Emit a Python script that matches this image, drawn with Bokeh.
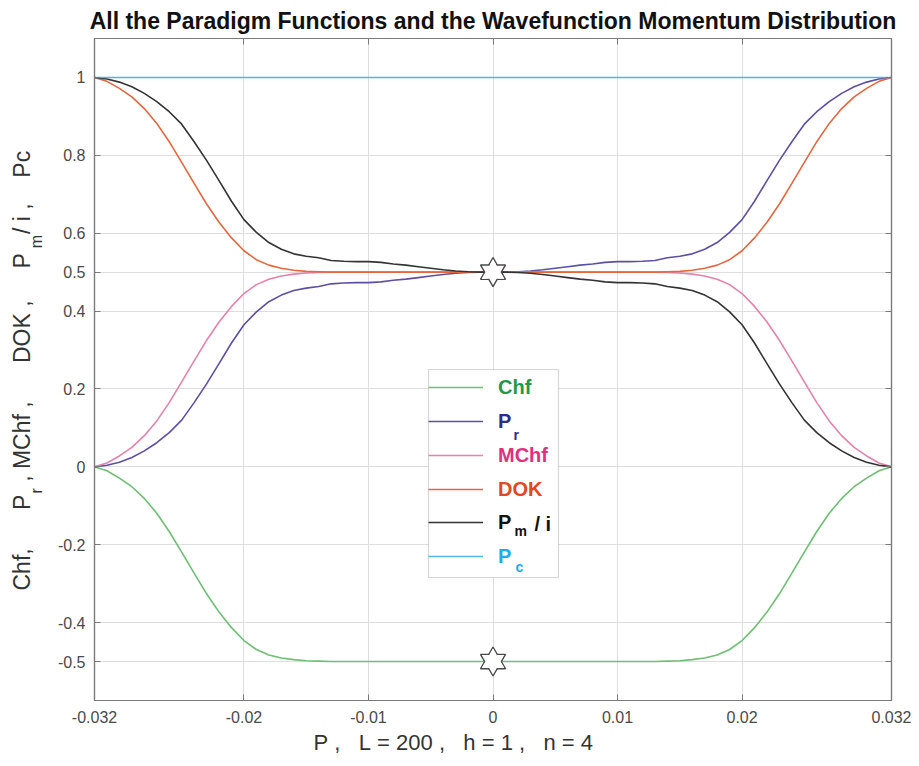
import numpy as np
from bokeh.plotting import figure
from bokeh.models import FixedTicker, LinearAxis, Range1d, Label, BoxAnnotation, Legend, LegendItem
from bokeh.embed import file_html
from bokeh.resources import INLINE

# ---------------- data ----------------
P = [-0.032, -0.031, -0.030, -0.029, -0.028, -0.027, -0.026, -0.025, -0.024, -0.023, -0.022,
     -0.021, -0.020, -0.019, -0.018, -0.017, -0.016, -0.015, -0.014, -0.013, -0.012, -0.011,
     -0.010, -0.009, -0.008, -0.007, -0.006, -0.005, -0.004, -0.003, -0.002, -0.001, 0.000,
     0.001, 0.002, 0.003, 0.004, 0.005, 0.006, 0.007, 0.008, 0.009, 0.010, 0.011,
     0.012, 0.013, 0.014, 0.015, 0.016, 0.017, 0.018, 0.019, 0.020, 0.021, 0.022,
     0.023, 0.024, 0.025, 0.026, 0.027, 0.028, 0.029, 0.030, 0.031, 0.032]

Chf = [0.000, -0.010, -0.029, -0.051, -0.081, -0.119, -0.166, -0.219, -0.273, -0.326, -0.373,
       -0.413, -0.446, -0.469, -0.483, -0.491, -0.495, -0.498, -0.499, -0.500, -0.500, -0.500,
       -0.500, -0.500, -0.500, -0.500, -0.500, -0.500, -0.500, -0.500, -0.500, -0.500, -0.500,
       -0.500, -0.500, -0.500, -0.500, -0.500, -0.500, -0.500, -0.500, -0.500, -0.500, -0.500,
       -0.500, -0.500, -0.499, -0.498, -0.495, -0.491, -0.483, -0.469, -0.446, -0.413, -0.373,
       -0.326, -0.273, -0.219, -0.166, -0.119, -0.081, -0.051, -0.029, -0.010, 0.000]

Pr = [0.000, 0.004, 0.012, 0.024, 0.041, 0.062, 0.088, 0.120, 0.165, 0.213, 0.265,
      0.318, 0.365, 0.398, 0.424, 0.441, 0.453, 0.459, 0.463, 0.470, 0.472, 0.473,
      0.473, 0.475, 0.479, 0.482, 0.486, 0.490, 0.494, 0.497, 0.499, 0.500, 0.500,
      0.500, 0.501, 0.503, 0.506, 0.510, 0.514, 0.518, 0.521, 0.525, 0.527, 0.527,
      0.528, 0.530, 0.537, 0.541, 0.547, 0.559, 0.576, 0.602, 0.635, 0.682, 0.735,
      0.787, 0.835, 0.880, 0.912, 0.938, 0.959, 0.976, 0.988, 0.996, 1.000]

MChf = [0.000, 0.010, 0.028, 0.050, 0.080, 0.118, 0.165, 0.218, 0.272, 0.325, 0.372,
        0.412, 0.445, 0.468, 0.482, 0.490, 0.495, 0.498, 0.499, 0.500, 0.500, 0.500,
        0.500, 0.500, 0.500, 0.500, 0.500, 0.500, 0.500, 0.500, 0.500, 0.500, 0.500,
        0.500, 0.500, 0.500, 0.500, 0.500, 0.500, 0.500, 0.500, 0.500, 0.500, 0.500,
        0.500, 0.500, 0.499, 0.498, 0.495, 0.490, 0.482, 0.468, 0.445, 0.412, 0.372,
        0.325, 0.272, 0.218, 0.165, 0.118, 0.080, 0.050, 0.028, 0.010, 0.000]

DOK = [1.000, 0.990, 0.972, 0.950, 0.920, 0.882, 0.835, 0.782, 0.728, 0.675, 0.628,
       0.588, 0.555, 0.532, 0.518, 0.510, 0.505, 0.502, 0.501, 0.500, 0.500, 0.500,
       0.500, 0.500, 0.500, 0.500, 0.500, 0.500, 0.500, 0.500, 0.500, 0.500, 0.500,
       0.500, 0.500, 0.500, 0.500, 0.500, 0.500, 0.500, 0.500, 0.500, 0.500, 0.500,
       0.500, 0.500, 0.501, 0.502, 0.505, 0.510, 0.518, 0.532, 0.555, 0.588, 0.628,
       0.675, 0.728, 0.782, 0.835, 0.882, 0.920, 0.950, 0.972, 0.990, 1.000]

Pm_i = [1.000, 0.996, 0.988, 0.976, 0.959, 0.938, 0.912, 0.880, 0.835, 0.787, 0.735,
        0.682, 0.635, 0.602, 0.576, 0.559, 0.547, 0.541, 0.537, 0.530, 0.528, 0.527,
        0.527, 0.525, 0.521, 0.518, 0.514, 0.510, 0.506, 0.503, 0.501, 0.500, 0.500,
        0.500, 0.499, 0.497, 0.494, 0.490, 0.486, 0.482, 0.479, 0.475, 0.473, 0.473,
        0.472, 0.470, 0.463, 0.459, 0.453, 0.441, 0.424, 0.398, 0.365, 0.318, 0.265,
        0.213, 0.165, 0.120, 0.088, 0.062, 0.041, 0.024, 0.012, 0.004, 0.000]

Pc = [1.0, 1.0, 1.0, 1.0, 1.0, 1.0, 1.0, 1.0, 1.0, 1.0, 1.0,
      1.0, 1.0, 1.0, 1.0, 1.0, 1.0, 1.0, 1.0, 1.0, 1.0, 1.0,
      1.0, 1.0, 1.0, 1.0, 1.0, 1.0, 1.0, 1.0, 1.0, 1.0, 1.0,
      1.0, 1.0, 1.0, 1.0, 1.0, 1.0, 1.0, 1.0, 1.0, 1.0, 1.0,
      1.0, 1.0, 1.0, 1.0, 1.0, 1.0, 1.0, 1.0, 1.0, 1.0, 1.0,
      1.0, 1.0, 1.0, 1.0, 1.0, 1.0, 1.0, 1.0, 1.0, 1.0]

star_x = [0.0, 0.0]
star_y = [0.5, -0.5]

x_ticks = [-0.032, -0.02, -0.01, 0.0, 0.01, 0.02, 0.032]
x_tick_labels = ["-0.032", "-0.02", "-0.01", "0", "0.01", "0.02", "0.032"]
y_ticks = [-0.5, -0.4, -0.2, 0.0, 0.2, 0.4, 0.5, 0.6, 0.8, 1.0]
y_tick_labels = ["-0.5", "-0.4", "-0.2", "0", "0.2", "0.4", "0.5", "0.6", "0.8", "1"]

TITLE = "All the Paradigm Functions and the Wavefunction Momentum Distribution"
NB = "\u00a0"
XLABEL = ("P" + NB + "," + NB * 3 + "L" + NB + "=" + NB + "200" + NB + "," + NB * 3 +
          "h" + NB + "=" + NB + "1" + NB + "," + NB * 3 + "n" + NB + "=" + NB + "4" + NB * 13)
# y label: "Chf,  P_r ,  MChf ,  DOK ,  P_m / i ,  Pc" (subscripts drawn on a second line of text)
YLABEL_MAIN = ("Chf," + NB * 6 + "P" + NB * 2 + "," + NB + "MChf" + NB + "," + NB * 6 +
               "DOK" + NB + "," + NB * 5 + "P" + NB * 3 + "/" + NB + "i" + NB + "," + NB * 4 + "Pc")
YLABEL_SUBS = "r" + NB * 54 + "m"

FONT = "Liberation Sans"

# ---------------- figure ----------------
W, H = 919, 766
L, R, T, B = 94, 28, 38, 66
X0, X1, Y0, Y1 = -0.032, 0.032, -0.6, 1.1
p = figure(width=W, height=H, x_range=Range1d(X0, X1), y_range=Range1d(Y0, Y1),
           output_backend="svg", toolbar_location=None,
           min_border_left=L, min_border_right=R, min_border_top=T, min_border_bottom=B)
p.background_fill_color = "white"
p.border_fill_color = "white"
p.outline_line_color = "#7a7a7a"
p.outline_line_width = 1.2

p.title.text = TITLE
p.title.align = "center"
p.title.text_font = FONT
p.title.text_font_size = "23px"
p.title.text_font_style = "bold"
p.title.text_color = "#111111"
p.title.offset = 5

def style_axis(ax, ticks, labels, show):
    ax.ticker = FixedTicker(ticks=ticks)
    ax.major_label_overrides = {t: (lab if show else "") for t, lab in zip(ticks, labels)}
    ax.major_tick_in = 6
    ax.major_tick_out = 0
    ax.minor_tick_line_color = None
    ax.axis_line_color = "#7a7a7a"
    ax.axis_line_width = 1.2
    ax.major_tick_line_color = "#7a7a7a"
    ax.major_label_text_font = FONT
    ax.major_label_text_font_size = "16px"
    ax.major_label_text_color = "#4a4a4a"

style_axis(p.xaxis[0], x_ticks, x_tick_labels, True)
style_axis(p.yaxis[0], y_ticks, y_tick_labels, True)
p.xaxis[0].major_label_standoff = 10
p.yaxis[0].major_label_standoff = 9
p.xaxis[0].axis_label = XLABEL
p.xaxis[0].axis_label_text_font = FONT
p.xaxis[0].axis_label_text_font_size = "22px"
p.xaxis[0].axis_label_text_font_style = "normal"
p.xaxis[0].axis_label_text_color = "#333333"
p.xaxis[0].axis_label_standoff = 4

ax_r = LinearAxis()
style_axis(ax_r, y_ticks, y_tick_labels, False)
ax_r.major_label_standoff = 0
p.add_layout(ax_r, "right")
ax_t = LinearAxis()
style_axis(ax_t, x_ticks, x_tick_labels, False)
ax_t.major_label_standoff = 0
p.add_layout(ax_t, "above")

p.xgrid.ticker = FixedTicker(ticks=x_ticks)
p.ygrid.ticker = FixedTicker(ticks=y_ticks)
p.grid.grid_line_color = "#dedede"
p.grid.grid_line_width = 1

# ---------------- series ----------------
series = [
    ("Chf", Chf, "#6cbf73", "#1f9a4a"),
    ("P", Pr, "#5c4fa6", "#2d2b8c"),
    ("MChf", MChf, "#e681ab", "#e0307e"),
    ("DOK", DOK, "#e8653d", "#e5461c"),
    ("P", Pm_i, "#333333", "#111111"),
    ("P", Pc, "#4fb6e4", "#22a9ee"),
]
renderers = []
for name, ys, lc, tc in series:
    r = p.line(P, ys, line_color=lc, line_width=1.6)
    renderers.append(r)

# hexagram stars (two triangles, inner edges hidden)
p.scatter(star_x, star_y, marker="triangle", size=25, fill_color="white", line_color="#4a4a4a", line_width=1.4)
p.scatter(star_x, star_y, marker="inverted_triangle", size=25, fill_color="white", line_color="#4a4a4a", line_width=1.4)
p.scatter(star_x, star_y, marker="triangle", size=22.5, fill_color="white", line_color=None)

# ---------------- helpers: canvas pixel -> frame screen / data coords ----------------
def sx(px):
    return px - L
def sy(py):
    return (H - B) - py
def dxp(px):
    return X0 + (px - L) * (X1 - X0) / (W - L - R)
def dyp(py):
    return Y0 + ((H - B) - py) * (Y1 - Y0) / (H - B - T)

# ---------------- legend ----------------
box = BoxAnnotation(left=sx(428), right=sx(558), top=sy(369), bottom=sy(577),
                    left_units="screen", right_units="screen", top_units="screen", bottom_units="screen",
                    fill_color="white", fill_alpha=1.0, line_color="#7a7a7a", line_width=1.2,
                    level="annotation")
p.add_layout(box)

centers = [383, 417, 451, 485, 518, 552]
for (name, ys, lc, tc), r, cy in zip(series, renderers, centers):
    leg = Legend(items=[LegendItem(label=name, renderers=[r])],
                 location=(sx(428), sy(cy) - 16), orientation="vertical",
                 padding=4, margin=0, spacing=0, glyph_width=55, glyph_height=24,
                 label_height=24, label_standoff=15,
                 label_text_font=FONT, label_text_font_style="bold", label_text_font_size="20px",
                 label_text_color=tc, border_line_color=None, background_fill_alpha=0.0)
    p.add_layout(leg)

def sub_label(text, px, py, color, size="14px", style="bold"):
    p.add_layout(Label(x=sx(px), y=sy(py), x_units="screen", y_units="screen", text=text,
                       text_font=FONT, text_font_size=size, text_font_style=style,
                       text_color=color, text_baseline="alphabetic", text_align="left"))

sub_label("r", 513, 434, "#2d2b8c")
sub_label("m", 514, 530, "#111111")
sub_label("/ i", 534, 523, "#111111", size="20px")
sub_label("c", 515, 566, "#22a9ee")

# ---------------- y-axis label (rotated), placed in the left panel ----------------
def ylab(text, py, bx, size):
    p.add_layout(Label(x=dxp(bx), y=dyp(py), x_units="data", y_units="data", text=text,
                       angle=np.pi / 2, text_font=FONT, text_font_size=size,
                       text_color="#333333", text_baseline="alphabetic", text_align="left"), "left")

ylab(YLABEL_SUBS, 493, 36, "16px")
ylab(YLABEL_MAIN, 590, 21, "23px")

open("out.html", "w").write(file_html(p, INLINE))
